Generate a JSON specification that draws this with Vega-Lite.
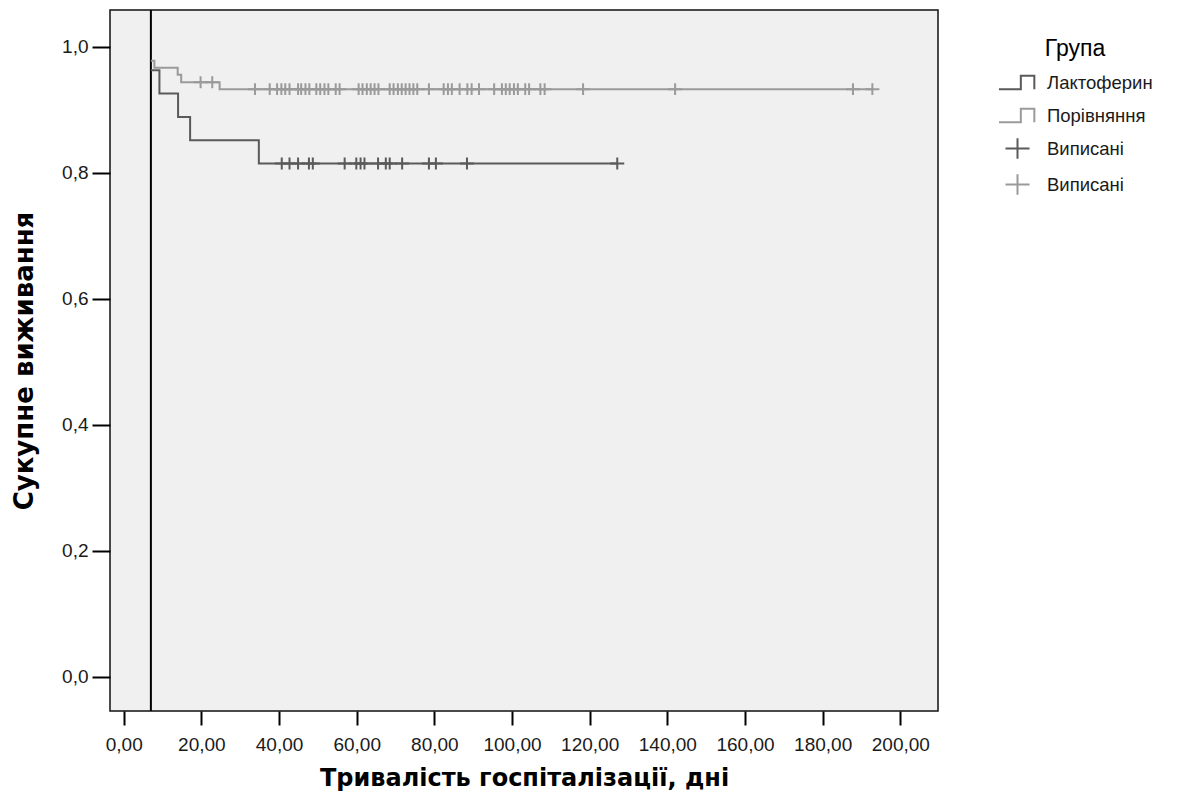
{
  "$schema": "https://vega.github.io/schema/vega-lite/v6.json",
  "autosize": "none",
  "width": 828,
  "height": 701,
  "padding": {"left": 110, "top": 10, "right": 241, "bottom": 98},
  "background": "white",
  "config": {
    "view": {"fill": "#f0f0f0", "stroke": "#111", "strokeWidth": 1.5},
    "font": "Liberation Sans"
  },
  "datasets": {
    "steps": [
      {"cat": "Лактоферин", "time": 7, "surv": 0.963},
      {"cat": "Лактоферин", "time": 9.2, "surv": 0.926},
      {"cat": "Лактоферин", "time": 14.0, "surv": 0.889},
      {"cat": "Лактоферин", "time": 17.1, "surv": 0.852},
      {"cat": "Лактоферин", "time": 34.8, "surv": 0.815},
      {"cat": "Лактоферин", "time": 127.1, "surv": 0.815},
      {"cat": "Порівняння", "time": 7, "surv": 0.978},
      {"cat": "Порівняння", "time": 7.9, "surv": 0.967},
      {"cat": "Порівняння", "time": 13.9, "surv": 0.956},
      {"cat": "Порівняння", "time": 14.8, "surv": 0.944},
      {"cat": "Порівняння", "time": 24.7, "surv": 0.933},
      {"cat": "Порівняння", "time": 192.8, "surv": 0.933}
    ],
    "censored": [
      {"cat": "Виписані (Л)", "time": 40.7, "surv": 0.815},
      {"cat": "Виписані (Л)", "time": 42.7, "surv": 0.815},
      {"cat": "Виписані (Л)", "time": 44.9, "surv": 0.815},
      {"cat": "Виписані (Л)", "time": 47.7, "surv": 0.815},
      {"cat": "Виписані (Л)", "time": 48.7, "surv": 0.815},
      {"cat": "Виписані (Л)", "time": 56.9, "surv": 0.815},
      {"cat": "Виписані (Л)", "time": 59.9, "surv": 0.815},
      {"cat": "Виписані (Л)", "time": 61.0, "surv": 0.815},
      {"cat": "Виписані (Л)", "time": 62.0, "surv": 0.815},
      {"cat": "Виписані (Л)", "time": 65.5, "surv": 0.815},
      {"cat": "Виписані (Л)", "time": 67.5, "surv": 0.815},
      {"cat": "Виписані (Л)", "time": 68.5, "surv": 0.815},
      {"cat": "Виписані (Л)", "time": 71.7, "surv": 0.815},
      {"cat": "Виписані (Л)", "time": 78.6, "surv": 0.815},
      {"cat": "Виписані (Л)", "time": 80.4, "surv": 0.815},
      {"cat": "Виписані (Л)", "time": 88.4, "surv": 0.815},
      {"cat": "Виписані (Л)", "time": 127.1, "surv": 0.815},
      {"cat": "Виписані (П)", "time": 19.8, "surv": 0.944},
      {"cat": "Виписані (П)", "time": 22.8, "surv": 0.944},
      {"cat": "Виписані (П)", "time": 33.8, "surv": 0.933},
      {"cat": "Виписані (П)", "time": 37.6, "surv": 0.933},
      {"cat": "Виписані (П)", "time": 39.5, "surv": 0.933},
      {"cat": "Виписані (П)", "time": 40.6, "surv": 0.933},
      {"cat": "Виписані (П)", "time": 41.6, "surv": 0.933},
      {"cat": "Виписані (П)", "time": 42.7, "surv": 0.933},
      {"cat": "Виписані (П)", "time": 44.9, "surv": 0.933},
      {"cat": "Виписані (П)", "time": 45.7, "surv": 0.933},
      {"cat": "Виписані (П)", "time": 46.8, "surv": 0.933},
      {"cat": "Виписані (П)", "time": 47.8, "surv": 0.933},
      {"cat": "Виписані (П)", "time": 49.6, "surv": 0.933},
      {"cat": "Виписані (П)", "time": 50.6, "surv": 0.933},
      {"cat": "Виписані (П)", "time": 51.7, "surv": 0.933},
      {"cat": "Виписані (П)", "time": 52.7, "surv": 0.933},
      {"cat": "Виписані (П)", "time": 54.6, "surv": 0.933},
      {"cat": "Виписані (П)", "time": 55.6, "surv": 0.933},
      {"cat": "Виписані (П)", "time": 60.5, "surv": 0.933},
      {"cat": "Виписані (П)", "time": 61.5, "surv": 0.933},
      {"cat": "Виписані (П)", "time": 62.6, "surv": 0.933},
      {"cat": "Виписані (П)", "time": 63.6, "surv": 0.933},
      {"cat": "Виписані (П)", "time": 64.6, "surv": 0.933},
      {"cat": "Виписані (П)", "time": 65.6, "surv": 0.933},
      {"cat": "Виписані (П)", "time": 68.5, "surv": 0.933},
      {"cat": "Виписані (П)", "time": 69.5, "surv": 0.933},
      {"cat": "Виписані (П)", "time": 70.6, "surv": 0.933},
      {"cat": "Виписані (П)", "time": 71.6, "surv": 0.933},
      {"cat": "Виписані (П)", "time": 72.6, "surv": 0.933},
      {"cat": "Виписані (П)", "time": 73.6, "surv": 0.933},
      {"cat": "Виписані (П)", "time": 74.6, "surv": 0.933},
      {"cat": "Виписані (П)", "time": 75.6, "surv": 0.933},
      {"cat": "Виписані (П)", "time": 78.6, "surv": 0.933},
      {"cat": "Виписані (П)", "time": 82.4, "surv": 0.933},
      {"cat": "Виписані (П)", "time": 83.5, "surv": 0.933},
      {"cat": "Виписані (П)", "time": 84.5, "surv": 0.933},
      {"cat": "Виписані (П)", "time": 86.5, "surv": 0.933},
      {"cat": "Виписані (П)", "time": 88.5, "surv": 0.933},
      {"cat": "Виписані (П)", "time": 89.6, "surv": 0.933},
      {"cat": "Виписані (П)", "time": 91.5, "surv": 0.933},
      {"cat": "Виписані (П)", "time": 95.4, "surv": 0.933},
      {"cat": "Виписані (П)", "time": 97.4, "surv": 0.933},
      {"cat": "Виписані (П)", "time": 98.4, "surv": 0.933},
      {"cat": "Виписані (П)", "time": 99.4, "surv": 0.933},
      {"cat": "Виписані (П)", "time": 100.5, "surv": 0.933},
      {"cat": "Виписані (П)", "time": 101.5, "surv": 0.933},
      {"cat": "Виписані (П)", "time": 103.4, "surv": 0.933},
      {"cat": "Виписані (П)", "time": 104.4, "surv": 0.933},
      {"cat": "Виписані (П)", "time": 107.3, "surv": 0.933},
      {"cat": "Виписані (П)", "time": 108.4, "surv": 0.933},
      {"cat": "Виписані (П)", "time": 118.3, "surv": 0.933},
      {"cat": "Виписані (П)", "time": 142.0, "surv": 0.933},
      {"cat": "Виписані (П)", "time": 187.8, "surv": 0.933},
      {"cat": "Виписані (П)", "time": 192.8, "surv": 0.933}
    ],
    "refline": [{"time": 7}]
  },
  "encoding": {
    "x": {
      "field": "time", "type": "quantitative",
      "scale": {"domain": [-3.53, 209.7], "nice": false, "zero": false},
      "axis": {
        "title": "Тривалість госпіталізації, дні",
        "values": [0, 20, 40, 60, 80, 100, 120, 140, 160, 180, 200],
        "labelExpr": "replace(format(datum.value, '.2f'), '.', ',')",
        "domain": false, "grid": false,
        "tickColor": "#000", "tickWidth": 2, "tickSize": 14,
        "labelPadding": 10, "labelFontSize": 19, "labelColor": "#1a1a1a",
        "labelFont": "Liberation Sans",
        "titleFont": "DejaVu Sans", "titleFontSize": 24, "titleFontWeight": "bold",
        "titleColor": "#000", "titlePadding": 12
      }
    },
    "y": {
      "field": "surv", "type": "quantitative",
      "scale": {"domain": [-0.054, 1.0587], "nice": false, "zero": false},
      "axis": {
        "title": "Сукупне виживання",
        "values": [0, 0.2, 0.4, 0.6, 0.8, 1.0],
        "labelExpr": "replace(format(datum.value, '.1f'), '.', ',')",
        "domain": false, "grid": false,
        "tickColor": "#000", "tickWidth": 2, "tickSize": 18,
        "labelPadding": 4, "labelFontSize": 19, "labelColor": "#1a1a1a",
        "labelFont": "Liberation Sans",
        "titleFont": "DejaVu Sans", "titleFontSize": 26, "titleFontWeight": "bold",
        "titleColor": "#000", "titlePadding": 24
      }
    }
  },
  "layer": [
    {
      "data": {"name": "refline"},
      "mark": {"type": "rule", "color": "#000", "strokeWidth": 2},
      "encoding": {"y": null}
    },
    {
      "data": {"name": "steps"},
      "mark": {"type": "line", "interpolate": "step-after", "strokeWidth": 2},
      "encoding": {
        "color": {
          "field": "cat", "type": "nominal",
          "scale": {
            "domain": ["Лактоферин", "Порівняння", "Виписані (Л)", "Виписані (П)"],
            "range": ["#5a5a5a", "#9a9a9a", "#5a5a5a", "#9a9a9a"]
          },
          "legend": {
            "title": "Група",
            "orient": "none", "legendX": 888, "legendY": 28,
            "titleFont": "Liberation Sans", "titleFontSize": 23, "titleFontWeight": "normal",
            "titleColor": "#000", "titleAnchor": "middle", "titlePadding": 2,
            "labelFont": "Liberation Sans", "labelFontSize": 18.5, "labelColor": "#1a1a1a",
            "labelExpr": "indexof(datum.label, 'Виписані') >= 0 ? 'Виписані' : datum.label",
            "symbolSize": 1369, "symbolStrokeWidth": 2, "rowPadding": 2, "labelOffset": 10
          }
        }
      }
    },
    {
      "data": {"name": "censored"},
      "mark": {"type": "point", "filled": false, "strokeWidth": 2, "opacity": 1, "size": 464},
      "encoding": {
        "color": {"field": "cat", "type": "nominal"},
        "shape": {
          "field": "cat", "type": "nominal",
          "scale": {
            "domain": ["Лактоферин", "Порівняння", "Виписані (Л)", "Виписані (П)"],
            "range": [
              "M-1,0.36H0.18V-0.36H0.91V0.36",
              "M-1,0.36H0.18V-0.36H0.91V0.36",
              "M-0.65,0H0.65M0,-0.55V0.55",
              "M-0.65,0H0.65M0,-0.55V0.55"
            ]
          }
        }
      }
    }
  ]
}
